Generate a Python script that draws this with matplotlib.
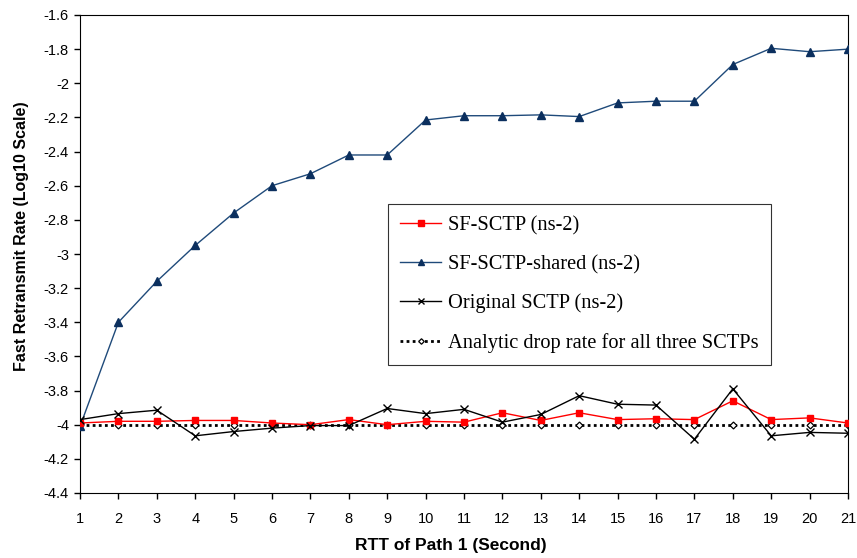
import matplotlib

matplotlib.use("Agg")
import matplotlib.pyplot as plt
import numpy as np

rtt = list(range(1, 22))
sf_sctp = [-3.99, -3.98, -3.98, -3.975, -3.975, -3.99, -4.0, -3.97, -4.0, -3.98, -3.985,
           -3.93, -3.975, -3.93, -3.97, -3.965, -3.97, -3.86, -3.97, -3.96, -3.99]
sf_sctp_shared = [-4.01, -3.40, -3.16, -2.95, -2.76, -2.60, -2.53, -2.42, -2.42, -2.215, -2.19,
                  -2.19, -2.185, -2.195, -2.115, -2.105, -2.105, -1.89, -1.795, -1.815, -1.80]
original_sctp = [-3.97, -3.935, -3.915, -4.065, -4.04, -4.02, -4.005, -4.005, -3.905, -3.935, -3.91,
                 -3.985, -3.94, -3.83, -3.88, -3.885, -4.085, -3.79, -4.065, -4.045, -4.05]
analytic = [-4.0] * 21

yticks = np.round(np.arange(-4.4, -1.59, 0.2), 1)

fig = plt.figure(figsize=(8.57, 5.58), dpi=100)
ax = fig.add_axes([80 / 857, 65 / 558, 768 / 857, 478 / 558])

ax.plot(rtt, sf_sctp, color="red", lw=1.0, marker="s", ms=5, mfc="red", mec="red",
        label="SF-SCTP (ns-2)", zorder=4)
ax.plot(rtt, sf_sctp_shared, color="#1f4a7a", lw=1.0, marker="^", ms=5.5, mfc="#0b2f5e",
        mec="#0b2f5e", label="SF-SCTP-shared (ns-2)", zorder=3)
ax.plot(rtt, original_sctp, color="black", lw=1.0, marker="x", ms=6, mew=1.0,
        label="Original SCTP (ns-2)", zorder=5)
ax.plot(rtt, analytic, color="black", lw=2.0, ls=(0, (1, 1.2)), marker="D", ms=3.5,
        mfc="white", mec="black", mew=0.9, label="Analytic drop rate for all three SCTPs", zorder=2)

ax.set_xlim(1, 21)
ax.set_ylim(-4.4, -1.6)
ax.set_xticks(rtt)
ax.set_yticks(yticks)
ax.set_yticklabels([f"{v:g}" for v in yticks])
for lab in ax.get_xticklabels() + ax.get_yticklabels():
    lab.set_fontfamily("Liberation Sans")
    lab.set_fontsize(10.5)
ax.tick_params(direction="out", length=4.5, width=1)
ax.tick_params(axis="x", pad=9)

ax.set_xlabel("RTT of Path 1 (Second)", fontfamily="Liberation Sans", fontweight="bold",
              fontsize=12.5)
ax.set_ylabel("Fast Retransmit Rate (Log10 Scale)", fontfamily="Liberation Sans",
              fontweight="bold", fontsize=11.5)
ax.xaxis.set_label_coords((451 - 80) / 768, -0.109)
ax.yaxis.set_label_coords((22 - 80) / 768, 0.538)
ax.xaxis.label.set_va("center")
ax.yaxis.label.set_va("center")

leg = ax.legend(loc="upper left", bbox_to_anchor=(0.401, 0.6046),
                prop={"family": "Liberation Serif", "size": 14.7}, frameon=True, fancybox=False,
                edgecolor="black", handlelength=2.0, borderpad=0.6, labelspacing=0.95,
                handletextpad=0.35, borderaxespad=0, markerscale=0.8)
leg.get_frame().set_linewidth(0.8)

fig.savefig("out.png", dpi=100)
